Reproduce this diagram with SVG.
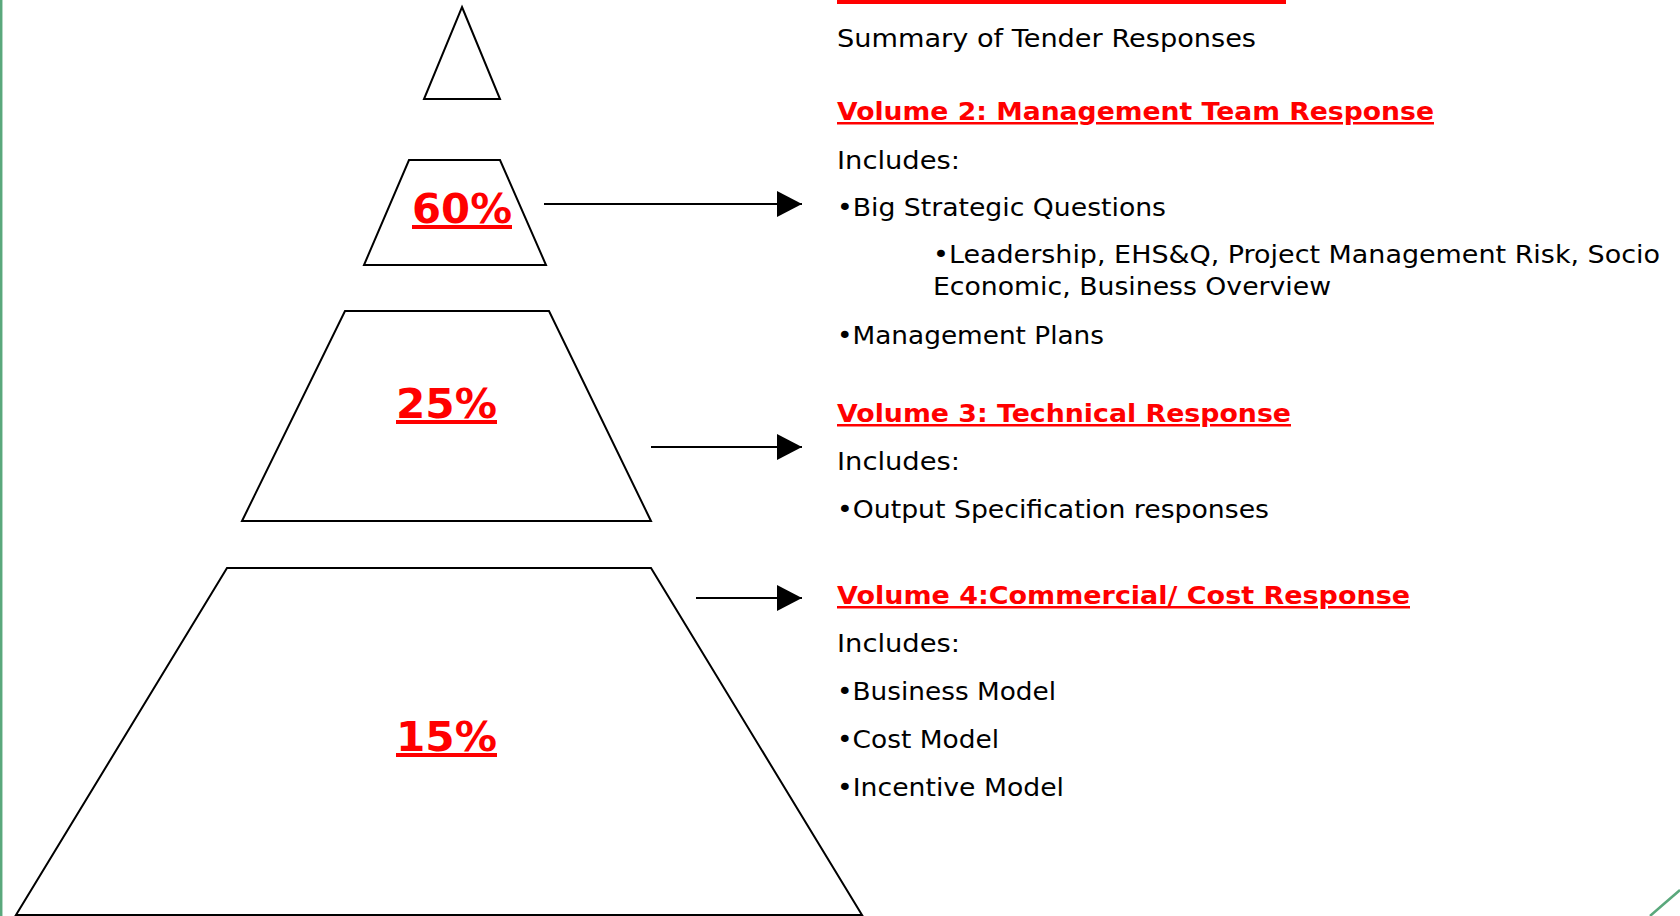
<svg xmlns="http://www.w3.org/2000/svg" width="1680" height="916" viewBox="0 0 1680 916">
<style>
.shape{fill:#fff;stroke:#000;stroke-width:2;stroke-linejoin:miter}
.pct{font-family:"DejaVu Sans","Verdana",sans-serif;font-weight:bold;font-size:40px;fill:#ff0000;text-decoration:underline}
.body{font-family:"DejaVu Sans","Verdana",sans-serif;font-size:24px;fill:#000}
.head{font-family:"DejaVu Sans","Verdana",sans-serif;font-weight:bold;font-size:25px;fill:#ff0000;text-decoration:underline}
.conn{stroke:#000;stroke-width:2;fill:none}
.accent{stroke:#5aa87c;stroke-width:2.5;fill:none}
</style>
<defs>
<marker id="arrow" markerUnits="userSpaceOnUse" markerWidth="26" markerHeight="28" refX="25" refY="13" orient="auto">
<path d="M0,0 L25,13 L0,26 Z" fill="#000"/>
</marker>
</defs>
<rect x="0" y="0" width="1680" height="916" fill="#fff"/>
<line class="accent" x1="1.2" y1="0" x2="1.2" y2="916"/>
<path class="accent" d="M1650,916 Q1666,902 1680,890"/>

<g id="apex">
<polygon class="shape" points="462,7 500,99 424,99"/>
</g>
<g id="tier-60">
<polygon class="shape" points="409,160 500,160 546,265 364,265"/>
<text class="pct" x="412" y="223" textLength="100" lengthAdjust="spacingAndGlyphs">60%</text>
</g>
<g id="tier-25">
<polygon class="shape" points="345,311 549,311 651,521 242,521"/>
<text class="pct" x="396" y="418" textLength="101" lengthAdjust="spacingAndGlyphs">25%</text>
</g>
<g id="tier-15">
<polygon class="shape" points="227,568 651,568 862,915 16,915"/>
<text class="pct" x="396" y="751" textLength="101" lengthAdjust="spacingAndGlyphs">15%</text>
</g>

<g id="connectors">
<line class="conn" x1="544" y1="204" x2="802" y2="204" marker-end="url(#arrow)"/>
<line class="conn" x1="651" y1="447" x2="802" y2="447" marker-end="url(#arrow)"/>
<line class="conn" x1="696" y1="598" x2="802" y2="598" marker-end="url(#arrow)"/>
</g>

<g id="volume-1">
<rect x="837" y="0" width="449" height="4" fill="#ff0000"/>
<text class="body" x="837" y="47" textLength="419" lengthAdjust="spacingAndGlyphs">Summary of Tender Responses</text>
</g>

<g id="volume-2">
<text class="head" x="837" y="120" textLength="597" lengthAdjust="spacingAndGlyphs">Volume 2: Management Team Response</text>
<text class="body" x="837" y="169" textLength="123" lengthAdjust="spacingAndGlyphs">Includes:</text>
<text class="body" x="837" y="216" textLength="329" lengthAdjust="spacingAndGlyphs">•Big Strategic Questions</text>
<text class="body" x="933" y="263" textLength="727" lengthAdjust="spacingAndGlyphs">•Leadership, EHS&amp;Q, Project Management Risk, Socio</text>
<text class="body" x="933" y="295" textLength="398" lengthAdjust="spacingAndGlyphs">Economic, Business Overview</text>
<text class="body" x="837" y="344" textLength="267" lengthAdjust="spacingAndGlyphs">•Management Plans</text>
</g>

<g id="volume-3">
<text class="head" x="837" y="422" textLength="454" lengthAdjust="spacingAndGlyphs">Volume 3: Technical Response</text>
<text class="body" x="837" y="470" textLength="123" lengthAdjust="spacingAndGlyphs">Includes:</text>
<text class="body" x="837" y="518" textLength="432" lengthAdjust="spacingAndGlyphs">•Output Specification responses</text>
</g>

<g id="volume-4">
<text class="head" x="837" y="604" textLength="573" lengthAdjust="spacingAndGlyphs">Volume 4:Commercial/ Cost Response</text>
<text class="body" x="837" y="652" textLength="123" lengthAdjust="spacingAndGlyphs">Includes:</text>
<text class="body" x="837" y="700" textLength="219" lengthAdjust="spacingAndGlyphs">•Business Model</text>
<text class="body" x="837" y="748" textLength="162" lengthAdjust="spacingAndGlyphs">•Cost Model</text>
<text class="body" x="837" y="796" textLength="227" lengthAdjust="spacingAndGlyphs">•Incentive Model</text>
</g>
</svg>
